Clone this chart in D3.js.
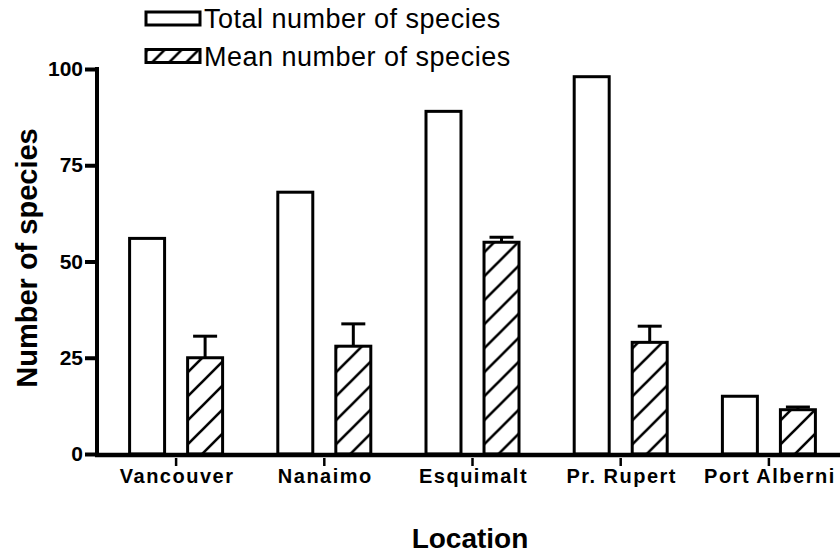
<!DOCTYPE html>
<html>
<head>
<meta charset="utf-8">
<script src="https://cdn.jsdelivr.net/npm/d3@7"></script>
<style>
  html, body { margin: 0; padding: 0; background: #fff; }
  svg { display: block; font-family: "Liberation Sans", Arial, Helvetica, sans-serif; }
</style>
</head>
<body>
<svg id="chart" width="840" height="556"></svg>
<script>
const locations = ["Vancouver", "Nanaimo", "Esquimalt", "Pr. Rupert", "Port Alberni"];
const totalSpecies = [56, 68, 89, 98, 15];
const meanSpecies = [25, 28, 55, 29, 11.5];
const meanSE = [5.6, 5.8, 1.3, 4.2, 0.7];
const seriesNames = ["Total number of species", "Mean number of species"];
const yTicks = [0, 25, 50, 75, 100];

const svg = d3.select("#chart");
const W = 840, H = 556;
const axisX = 97;

const defs = svg.append("defs");
defs.append("pattern")
  .attr("id", "hatch").attr("patternUnits", "userSpaceOnUse")
  .attr("width", 24).attr("height", 24)
  .append("path")
  .attr("d", "M0,24 L24,0 M-6,6 L6,-6 M18,30 L30,18")
  .attr("stroke", "#000").attr("stroke-width", 2.6).attr("fill", "none");
defs.append("pattern")
  .attr("id", "hatchLegend").attr("patternUnits", "userSpaceOnUse")
  .attr("width", 17).attr("height", 17).attr("x", 2).attr("y", 0)
  .append("path")
  .attr("d", "M0,17 L17,0 M-5,5 L5,-5 M12,22 L22,12")
  .attr("stroke", "#000").attr("stroke-width", 2.6).attr("fill", "none");

const y = d3.scaleLinear().domain([0, 100]).range([454, 69]);
const x0 = d3.scaleBand().domain(locations).range([102, 843]).padding(0);
const x1 = d3.scaleBand().domain(seriesNames).range([-46.5, 46.5]).paddingInner(0.397);

const data = locations.map((loc, i) => ({
  loc,
  values: [
    { s: seriesNames[0], v: totalSpecies[i], se: null },
    { s: seriesNames[1], v: meanSpecies[i], se: meanSE[i] }
  ]
}));

const cx = d => x0(d) + x0.bandwidth() / 2;

// bars
const groups = svg.append("g").selectAll("g").data(data).join("g")
  .attr("transform", d => `translate(${cx(d.loc)},0)`);

groups.selectAll("rect").data(d => d.values).join("rect")
  .attr("x", d => x1(d.s))
  .attr("y", d => y(d.v))
  .attr("width", x1.bandwidth())
  .attr("height", d => y(0) - y(d.v))
  .attr("fill", (d, i) => i === 0 ? "#fff" : "url(#hatch)")
  .attr("stroke", "#000").attr("stroke-width", 3);

// error bars
const eb = groups.selectAll("g.err").data(d => d.values.filter(v => v.se != null)).join("g").attr("class", "err");
eb.append("line")
  .attr("x1", d => x1(d.s) + x1.bandwidth() / 2)
  .attr("x2", d => x1(d.s) + x1.bandwidth() / 2)
  .attr("y1", d => y(d.v)).attr("y2", d => y(d.v + d.se))
  .attr("stroke", "#000").attr("stroke-width", 3);
eb.append("line")
  .attr("x1", d => x1(d.s) + x1.bandwidth() / 2 - 12)
  .attr("x2", d => x1(d.s) + x1.bandwidth() / 2 + 12)
  .attr("y1", d => y(d.v + d.se)).attr("y2", d => y(d.v + d.se))
  .attr("stroke", "#000").attr("stroke-width", 3);

// y axis
const yAxis = svg.append("g").attr("transform", `translate(${axisX},0)`)
  .call(d3.axisLeft(y).tickValues(yTicks).tickSize(12).tickSizeOuter(0).tickPadding(2));
yAxis.select(".domain").attr("stroke", "#000").attr("stroke-width", 4)
  .attr("d", `M0,${y(100) - 2}V${y(0) + 3}`);
yAxis.selectAll(".tick line").attr("stroke", "#000").attr("stroke-width", 4);
yAxis.selectAll(".tick text")
  .attr("font-size", 21).attr("font-weight", "bold").attr("fill", "#000")
  .attr("font-family", "'Liberation Sans', Arial, sans-serif");

// x axis
const xAxis = svg.append("g").attr("transform", `translate(0,${y(0)})`)
  .call(d3.axisBottom(x0).tickSize(12).tickSizeOuter(0).tickPadding(3));
xAxis.select(".domain").remove();
xAxis.selectAll(".tick line").attr("y1", 4).attr("stroke", "#000").attr("stroke-width", 2.5);
xAxis.selectAll(".tick text")
  .attr("font-size", 20).attr("font-weight", "bold").attr("fill", "#000")
  .attr("letter-spacing", "1.5px").attr("dx", "1")
  .attr("font-family", "'Liberation Sans', Arial, sans-serif");
svg.append("line")
  .attr("x1", axisX - 2).attr("x2", W)
  .attr("y1", y(0) + 1).attr("y2", y(0) + 1)
  .attr("stroke", "#000").attr("stroke-width", 4.5);

// axis titles
svg.append("text")
  .attr("x", 470).attr("y", 548)
  .attr("text-anchor", "middle")
  .attr("font-size", 28).attr("font-weight", "bold")
  .text("Location");
svg.append("text")
  .attr("transform", "translate(37,258) rotate(-90)")
  .attr("text-anchor", "middle")
  .attr("font-size", 29).attr("font-weight", "bold")
  .text("Number of species");

// legend
const legend = svg.append("g");
const legendRows = seriesNames.map((s, i) => ({ s, i }));
const lg = legend.selectAll("g").data(legendRows).join("g")
  .attr("transform", d => `translate(146,${d.i === 0 ? 12 : 49.5})`);
lg.append("rect")
  .attr("x", 0).attr("y", 0).attr("width", 54).attr("height", 13)
  .attr("fill", d => d.i === 0 ? "#fff" : "url(#hatchLegend)")
  .attr("stroke", "#000").attr("stroke-width", 3);
lg.append("text")
  .attr("x", 58).attr("y", 16)
  .attr("font-size", 27).attr("letter-spacing", "0.5px")
  .text(d => d.s);
</script>
</body>
</html>
